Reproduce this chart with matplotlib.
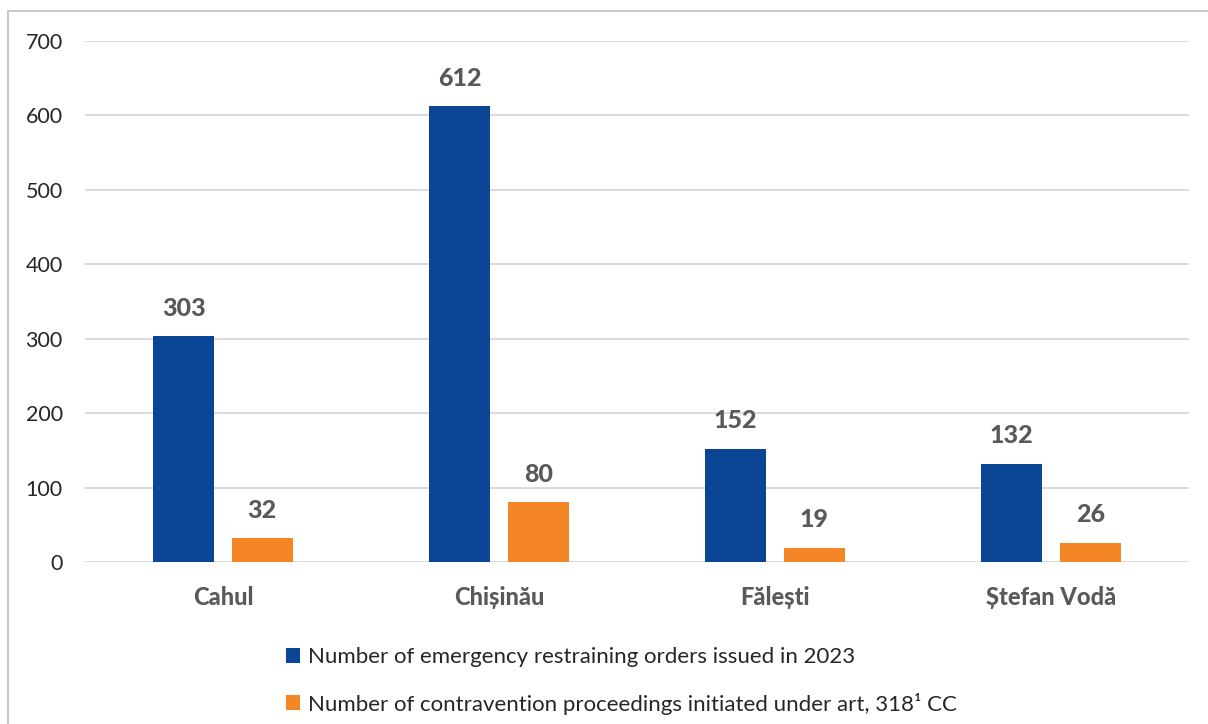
import numpy as np
import matplotlib
matplotlib.use('Agg')
import matplotlib.pyplot as plt
from matplotlib.patches import Rectangle

# districts and counts
districts = ['Cahul', 'Chișinău', 'Fălești', 'Ștefan Vodă']
orders = [303, 612, 152, 132]
proceedings = [32, 80, 19, 26]
series_names = ['Number of emergency restraining orders issued in 2023',
                'Number of contravention proceedings initiated under art, 318¹ CC']
yticks = [0, 100, 200, 300, 400, 500, 600, 700]

BLUE = '#0B4596'
ORANGE = '#F58625'
GREY = '#595959'

plt.rcParams['font.family'] = ['Lato', 'DejaVu Sans']

fig = plt.figure(figsize=(12.08, 7.24), dpi=100)
# outer chart frame (runs off the right and bottom edges)
fig.patches.append(Rectangle((8/1208, -0.05), 1.1, 1 - 11/724 + 0.05, transform=fig.transFigure,
                             fill=False, edgecolor='#BFBFBF', linewidth=1.2))

ax = fig.add_axes([85/1208, 1 - 562/724, 1104/1208, 521/724])

x = np.arange(len(districts))
w = 0.222
b1 = ax.bar(x - 0.142, orders, w, color=BLUE, zorder=3)
b2 = ax.bar(x + 0.142, proceedings, w, color=ORANGE, zorder=3)

for bars in (b1, b2):
    for r in bars:
        ax.annotate('%d' % r.get_height(), (r.get_x() + r.get_width()/2, r.get_height()),
                    xytext=(0, 12), textcoords='offset points', ha='center', va='bottom',
                    fontsize=18, fontweight='black', color=GREY)

ax.set_xlim(-0.5, len(districts) - 0.5)
ax.set_ylim(0, 700)
ax.set_yticks(yticks)
ax.set_yticklabels([str(t) for t in yticks], fontsize=15.5, color='#262626')
ax.set_xticks(x)
ax.set_xticklabels(districts, fontsize=17, fontweight='black', color=GREY)
ax.tick_params(axis='both', length=0)
ax.tick_params(axis='y', pad=16)
ax.tick_params(axis='x', pad=17)
ax.grid(axis='y', color='#D9D9D9', linewidth=1.3, zorder=0)
for s in ax.spines.values():
    s.set_visible(False)

leg = fig.legend([b1, b2], series_names, loc='upper left', bbox_to_anchor=(266/1208, 1 - 627/724),
                 frameon=False, fontsize=16, handlelength=0.65, handleheight=0.65,
                 handletextpad=0.35, labelspacing=1.15)
for t in leg.get_texts():
    t.set_color('#262626')

fig.savefig('out.png', dpi=100)
